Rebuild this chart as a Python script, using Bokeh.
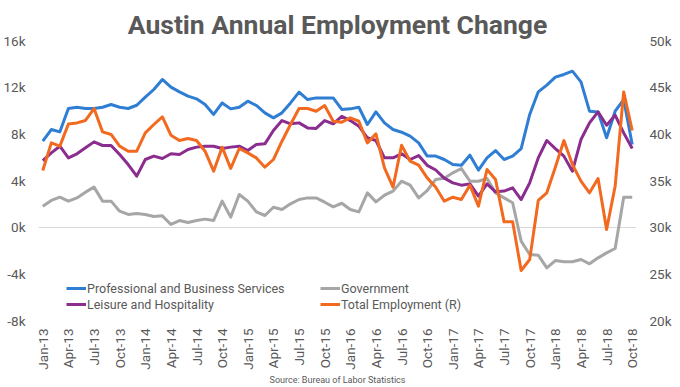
import math
from bokeh.plotting import figure
from bokeh.models import Range1d, LinearAxis, FixedTicker, Legend, LegendItem, Title
from bokeh.embed import file_html
from bokeh.resources import INLINE

# ---------------- data ----------------
years = ["13", "14", "15", "16", "17", "18"]
month_names = ["Jan", "Feb", "Mar", "Apr", "May", "Jun", "Jul", "Aug", "Sep", "Oct", "Nov", "Dec"]
months = [f"{m}-{y}" for y in years for m in month_names][:70]  # Jan-13 .. Oct-18

prof_business = [7370, 8370, 8170, 10170, 10280, 10170, 10170, 10280, 10510, 10280,
                 10170, 10450, 11140, 11800, 12660, 12000, 11600, 11230, 11000, 10510,
                 9660, 10650, 10140, 10280, 10800, 10430, 9800, 9370, 9800, 10650,
                 11570, 10940, 11080, 11080, 11080, 10090, 10140, 10280, 8800, 9880,
                 8940, 8370, 8140, 7800, 7230, 6090, 6090, 5800, 5370, 5310,
                 6170, 4890, 5940, 6570, 5800, 6090, 6740, 9660, 11600, 12170,
                 12860, 13090, 13370, 12450, 9940, 9880, 7660, 9940, 10940, 7090]

government = [1800, 2290, 2570, 2230, 2510, 3000, 3430, 2230, 2230, 1370,
              1090, 1170, 1090, 910, 970, 230, 570, 400, 570, 690,
              570, 2230, 860, 2800, 2230, 1310, 1000, 1710, 1510, 2000,
              2370, 2510, 2510, 2140, 1740, 2050, 1510, 1310, 2940, 2170,
              2740, 3090, 3940, 3600, 2510, 3140, 4090, 4200, 4660, 5030,
              3940, 3940, 4170, 2940, 2510, 2090, -1200, -2340, -2400, -3490,
              -2860, -2970, -2970, -2770, -3140, -2630, -2200, -1830, 2570, 2570]

leisure = [5710, 6370, 6940, 5940, 6290, 6800, 7310, 7000, 7000, 6230,
           5370, 4370, 5800, 6090, 5890, 6290, 6230, 6660, 6860, 6940,
           6940, 6740, 6860, 6940, 6570, 7090, 7140, 8290, 9140, 8860,
           8940, 8510, 8460, 9140, 8860, 9500, 9140, 8660, 7660, 7430,
           5940, 5940, 6290, 5800, 6140, 5300, 4900, 4200, 3800, 3600,
           3710, 2660, 3710, 3030, 3090, 3370, 2370, 3800, 5940, 7430,
           6740, 6090, 4800, 7510, 8940, 9880, 8740, 9600, 8080, 6740]

total_employment = [36070, 39030, 38680, 41060, 41170, 41430, 42710, 40210, 39930, 38680,
                    38140, 38140, 40100, 41000, 41810, 39850, 39280, 39500, 39280, 38140,
                    36000, 38570, 36290, 38430, 37960, 37420, 36430, 37250, 39210, 41000,
                    42710, 42710, 42420, 43030, 41350, 41250, 41710, 41350, 39030, 40000,
                    36350, 34280, 38780, 37070, 36640, 35280, 34280, 32780, 33210, 32960,
                    34500, 32250, 36180, 35110, 30570, 30570, 25360, 26540, 32860, 33680,
                    36430, 39280, 36720, 34930, 33680, 35210, 29750, 34390, 44490, 40360]

left_ticks = [-8000, -4000, 0, 4000, 8000, 12000, 16000]
left_tick_labels = ["-8k", "-4k", "0k", "4k", "8k", "12k", "16k"]
right_ticks = [20000, 25000, 30000, 35000, 40000, 45000, 50000]
right_tick_labels = ["20k", "25k", "30k", "35k", "40k", "45k", "50k"]
x_tick_labels = ["Jan-13", "Apr-13", "Jul-13", "Oct-13", "Jan-14", "Apr-14", "Jul-14", "Oct-14",
                 "Jan-15", "Apr-15", "Jul-15", "Oct-15", "Jan-16", "Apr-16", "Jul-16", "Oct-16",
                 "Jan-17", "Apr-17", "Jul-17", "Oct-17", "Jan-18", "Apr-18", "Jul-18", "Oct-18"]

series_names = ["Professional and Business Services", "Government",
                "Leisure and Hospitality", "Total Employment (R)"]
title_text = "Austin Annual Employment Change"
source_text = "Source: Bureau of Labor Statistics"

# ---------------- styling ----------------
FONT = "Roboto"
TXT = "#595959"
BLUE = "#2F7ED4"
GRAY = "#A6A6A6"
PURPLE = "#8B2D8F"
ORANGE = "#F26A1F"

x = list(range(len(months)))

p = figure(width=680, height=387, output_backend="svg", toolbar_location=None,
           x_range=Range1d(-0.5, len(months) - 0.5), y_range=Range1d(-8000, 16000),
           min_border_left=38, min_border_right=44, min_border_top=40, min_border_bottom=67)
p.extra_y_ranges = {"right": Range1d(20000, 50000)}
p.outline_line_color = None
p.background_fill_color = "white"
p.border_fill_color = "white"

p.title.text = title_text
p.title.text_font = FONT
p.title.text_font_style = "bold"
p.title.text_font_size = "26.5px"
p.title.text_color = TXT
p.title.align = "center"
p.title.standoff = 2
p.title.offset = 0

r_blue = p.line(x, prof_business, line_color=BLUE, line_width=3, line_join="round")
r_gray = p.line(x, government, line_color=GRAY, line_width=3, line_join="round")
r_purple = p.line(x, leisure, line_color=PURPLE, line_width=3, line_join="round")
r_orange = p.line(x, total_employment, line_color=ORANGE, line_width=3, line_join="round",
                  y_range_name="right")

def style_axis(ax, standoff, size="13.5px"):
    ax.axis_line_color = None
    ax.major_tick_line_color = None
    ax.minor_tick_line_color = None
    ax.major_tick_out = 0
    ax.major_tick_in = 0
    ax.minor_tick_out = 0
    ax.major_label_standoff = standoff
    ax.major_label_text_font = FONT
    ax.major_label_text_font_size = size
    ax.major_label_text_color = TXT

xa = p.xaxis[0]
xa.ticker = FixedTicker(ticks=[months.index(l) for l in x_tick_labels])
xa.major_label_overrides = {months.index(l): l for l in x_tick_labels}
xa.major_label_orientation = math.pi / 2
style_axis(xa, 8, "13.5px")

ya = p.yaxis[0]
ya.ticker = FixedTicker(ticks=left_ticks)
ya.major_label_overrides = {t: l for t, l in zip(left_ticks, left_tick_labels)}
style_axis(ya, 13)

ra = LinearAxis(y_range_name="right")
ra.ticker = FixedTicker(ticks=right_ticks)
ra.major_label_overrides = {t: l for t, l in zip(right_ticks, right_tick_labels)}
style_axis(ra, 13)
p.add_layout(ra, "right")

p.add_layout(Title(text=source_text, text_font=FONT, text_font_size="9px",
                   text_font_style="normal", text_color=TXT, align="center",
                   standoff=0, offset=0), "below")

p.xgrid.visible = False
p.ygrid.ticker = FixedTicker(ticks=[0])
p.ygrid.grid_line_color = "#D9D9D9"
p.ygrid.grid_line_width = 1

def make_legend(items, loc):
    return Legend(items=items, location=loc, orientation="vertical",
                  padding=0, margin=0, spacing=0, glyph_width=20, glyph_height=16,
                  label_height=16, label_standoff=1, label_text_font=FONT,
                  label_text_font_size="12.5px", label_text_color=TXT,
                  background_fill_alpha=0, border_line_alpha=0)

lg1 = make_legend([LegendItem(label=series_names[0], renderers=[r_blue]),
                   LegendItem(label=series_names[2], renderers=[r_purple])], (28, 8))
lg2 = make_legend([LegendItem(label=series_names[1], renderers=[r_gray]),
                   LegendItem(label=series_names[3], renderers=[r_orange])], (282, 8))
p.add_layout(lg1, "center")
p.add_layout(lg2, "center")

open("out.html", "w").write(file_html(p, INLINE))
